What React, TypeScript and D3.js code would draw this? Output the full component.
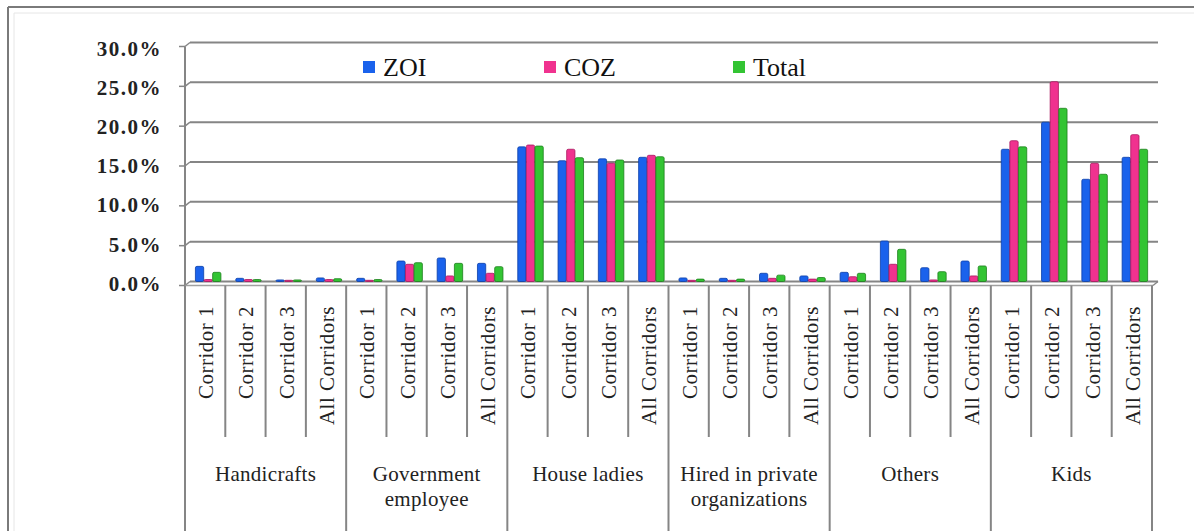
import React from "react";
import * as d3 from "d3";

const groups = ["Handicrafts", "Government employee", "House ladies", "Hired in private organizations", "Others", "Kids"];
const groupLines: string[][] = [
  ["Handicrafts"],
  ["Government", "employee"],
  ["House ladies"],
  ["Hired in private", "organizations"],
  ["Others"],
  ["Kids"],
];
const corridors = ["Corridor 1", "Corridor 2", "Corridor 3", "All Corridors"];
const seriesNames = ["ZOI", "COZ", "Total"];
const seriesColors = ["#1a62ec", "#f0328f", "#33c433"];
const seriesStroke = ["#0b3fa8", "#a8185e", "#1d801d"];

// values per category (group x corridor), in percent
const zoi = [1.9, 0.4, 0.2, 0.45, 0.4, 2.57, 2.95, 2.28, 16.9, 15.16, 15.4, 15.59, 0.45, 0.4, 1.03, 0.7, 1.15, 5.08, 1.73, 2.57, 16.6, 20.0, 12.83, 15.59];
const coz = [0.25, 0.25, 0.15, 0.25, 0.15, 2.16, 0.7, 1.03, 17.13, 16.6, 14.84, 15.84, 0.15, 0.15, 0.4, 0.3, 0.6, 2.16, 0.2, 0.7, 17.67, 25.08, 14.84, 18.43];
const total = [1.15, 0.25, 0.2, 0.35, 0.25, 2.36, 2.28, 1.86, 17.0, 15.54, 15.25, 15.66, 0.3, 0.3, 0.8, 0.5, 1.03, 4.04, 1.23, 1.95, 16.9, 21.74, 13.46, 16.6];
const seriesValues = [zoi, coz, total];
const yTicks = [0, 5, 10, 15, 20, 25, 30];

const W = 1194;
const H = 531;
const FONT = '"Liberation Serif", "DejaVu Serif", serif';
const tStyle = { fontFamily: FONT };

export default function App() {
  const cats = groups.flatMap((g, gi) => corridors.map((c, ci) => `${gi}-${ci}`));
  const x = d3.scaleBand<string>().domain(cats).range([185, 1152]).padding(0);
  const yBack = d3.scaleLinear().domain([0, 30]).range([281.5, 42.5]);
  const yLabel = d3.scaleLinear().domain([0, 30]).range([286, 51]);
  const bw = x.bandwidth();
  const inner = d3.scaleBand<number>().domain([0, 1, 2]).range([bw * 0.25, bw * 0.9]).padding(0.04);
  const grid = "#858585";
  const dx = 5;
  const dy = 4;

  return (
    <svg width={W} height={H} style={{ position: "absolute", left: 0, top: 0, background: "#fff" }}>
      {/* outer frame */}
      <line x1={8} y1={7} x2={W} y2={7} stroke="#7a7a7a" strokeWidth={2} />
      <line x1={8} y1={7} x2={8} y2={H} stroke="#7a7a7a" strokeWidth={2} />
      <line x1={14} y1={13} x2={W} y2={13} stroke="#e6e6e6" strokeWidth={1} />
      <line x1={14} y1={13} x2={14} y2={H} stroke="#e6e6e6" strokeWidth={1} />

      {/* gridlines on back wall */}
      {yTicks.map((t) => (
        <g key={t}>
          <line x1={185 + dx} y1={yBack(t)} x2={1158} y2={yBack(t)} stroke={grid} strokeWidth={2} />
          <line x1={185} y1={yBack(t) + dy} x2={185 + dx} y2={yBack(t)} stroke={grid} strokeWidth={1.5} />
          <line x1={179} y1={yBack(t) + dy} x2={185} y2={yBack(t) + dy} stroke={grid} strokeWidth={1.5} />
          <text
            x={162}
            y={yLabel(t)}
            textAnchor="end"
            dominantBaseline="middle"
            fontSize={21}
            fontWeight="bold"
            letterSpacing={1.5}
            fill="#222"
            style={tStyle}
          >
            {d3.format(".1f")(t) + "%"}
          </text>
        </g>
      ))}
      {/* y axis */}
      <line x1={185} y1={yBack(30) + dy} x2={185} y2={yBack(0) + dy} stroke={grid} strokeWidth={2} />
      {/* floor front edge */}
      <line x1={185} y1={yBack(0) + dy} x2={1153} y2={yBack(0) + dy} stroke="#a0a0a0" strokeWidth={1.5} />
      <line x1={1153} y1={yBack(0) + dy} x2={1158} y2={yBack(0)} stroke={grid} strokeWidth={1.5} />

      {/* bars */}
      {cats.map((c, i) => (
        <g key={c}>
          {seriesValues.map((vals, s) => {
            const bx = (x(c) as number) + (inner(s) as number);
            const top = yBack(vals[i]);
            const h = Math.max(yBack(0) - top, 1);
            return (
              <rect
                key={s}
                x={bx}
                y={yBack(0) - h}
                width={inner.bandwidth()}
                height={h}
                rx={1.5}
                fill={seriesColors[s]}
                stroke={seriesStroke[s]}
                strokeWidth={0.8}
              />
            );
          })}
        </g>
      ))}

      {/* category axis lines */}
      {cats.map((c, i) => {
        const xx = x(c) as number;
        const isGroup = i % 4 === 0;
        return (
          <line key={c} x1={xx} y1={yBack(0) + dy} x2={xx} y2={isGroup ? H : 437} stroke={grid} strokeWidth={2} />
        );
      })}
      <line x1={1152} y1={yBack(0) + dy} x2={1152} y2={H} stroke={grid} strokeWidth={2} />

      {/* corridor labels */}
      {cats.map((c, i) => {
        const cx = (x(c) as number) + bw / 2 + 8;
        return (
          <text
            key={c}
            transform={`translate(${cx},306) rotate(-90)`}
            textAnchor="end"
            fontSize={21}
            letterSpacing={0.5}
            fill="#222"
            style={tStyle}
          >
            {corridors[i % 4]}
          </text>
        );
      })}

      {/* group labels */}
      {groupLines.map((lines, gi) => {
        const gx = (x(`${gi}-0`) as number) + bw * 2;
        return (
          <text key={gi} textAnchor="middle" fontSize={21} letterSpacing={0.3} fill="#222" style={tStyle}>
            {lines.map((l, li) => (
              <tspan key={li} x={gx} y={481 + li * 25}>
                {l}
              </tspan>
            ))}
          </text>
        );
      })}

      {/* legend */}
      {seriesNames.map((n, s) => {
        const lx = [363, 544, 733][s];
        return (
          <g key={n}>
            <rect x={lx} y={61} width={12} height={12} fill={seriesColors[s]} />
            <text x={lx + 20} y={76} fontSize={26} fill="#111" style={tStyle}>
              {n}
            </text>
          </g>
        );
      })}
    </svg>
  );
}
